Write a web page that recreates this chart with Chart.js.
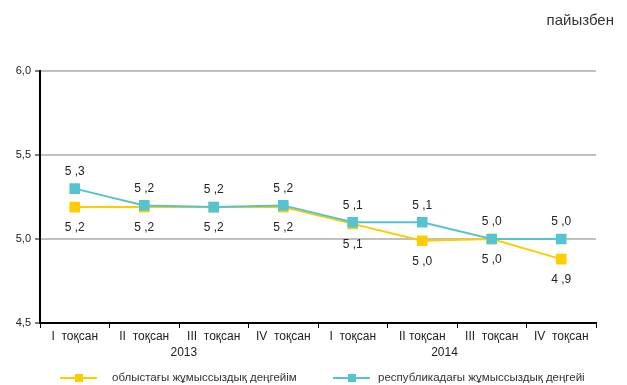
<!DOCTYPE html>
<html><head><meta charset="utf-8">
<script src="https://cdn.jsdelivr.net/npm/chart.js@4/dist/chart.umd.min.js"></script>
<style>html,body{margin:0;padding:0;background:#fff}#wrap{width:627px;height:385px;position:relative}</style>
</head><body><div id="wrap"><canvas id="c" width="627" height="385"></canvas></div>
<script>
const categories = ['I  тоқсан','II  тоқсан','III  тоқсан','IV  тоқсан','I  тоқсан','II тоқсан','III  тоқсан','IV  тоқсан'];
const years = ['2013','2014'];
const regionValues = [5.19, 5.19, 5.19, 5.19, 5.09, 4.99, 5.0, 4.88];
const regionLabels = ['5 ,2','5 ,2','5 ,2','5 ,2','5 ,1','5 ,0','5 ,0','4 ,9'];
const republicValues = [5.3, 5.2, 5.19, 5.2, 5.1, 5.1, 5.0, 5.0];
const republicLabels = ['5 ,3','5 ,2','5 ,2','5 ,2','5 ,1','5 ,1','5 ,0','5 ,0'];
const seriesNames = ['облыстағы жұмыссыздық деңгейім','республикадағы жұмыссыздық деңгейі'];
const yTicks = [4.5, 5.0, 5.5, 6.0];
const unitLabel = 'пайызбен';

const YELLOW = '#FFCC00', CYAN = '#55C4CE';
const FONT = '"Liberation Sans", Arial, sans-serif';

const extras = {
  id: 'extras',
  afterDatasetsDraw(chart) {
    const ctx = chart.ctx;
    ctx.save();
    ctx.font = '12px ' + FONT;
    ctx.fillStyle = '#222';
    ctx.textAlign = 'center';
    ctx.textBaseline = 'middle';
    const m0 = chart.getDatasetMeta(0), m1 = chart.getDatasetMeta(1);
    m0.data.forEach((p, i) => ctx.fillText(regionLabels[i], p.x, p.y + 21));
    m1.data.forEach((p, i) => ctx.fillText(republicLabels[i], p.x, p.y - 17));
    // years
    const xs = chart.scales.x;
    ctx.fillText(years[0], xs.getPixelForValue(1.57), 353);
    ctx.fillText(years[1], xs.getPixelForValue(5.32), 353);
    // unit
    ctx.font = '15px ' + FONT;
    ctx.fillStyle = '#333';
    ctx.textAlign = 'right';
    ctx.fillText(unitLabel, 614, 21);
    // legend
    ctx.font = '11.5px ' + FONT;
    ctx.textAlign = 'left';
    const items = [[60, YELLOW, seriesNames[0], 112], [333, CYAN, seriesNames[1], 378]];
    items.forEach(([x, col, txt, tx]) => {
      ctx.strokeStyle = col; ctx.lineWidth = 2;
      ctx.beginPath(); ctx.moveTo(x, 378); ctx.lineTo(x + 37, 378); ctx.stroke();
      ctx.fillStyle = col; ctx.fillRect(x + 15, 374, 8, 8);
      ctx.fillStyle = '#333'; ctx.fillText(txt, tx, 378);
    });
    ctx.restore();
  }
};

new Chart(document.getElementById('c'), {
  type: 'line',
  data: {
    labels: categories,
    datasets: [
      { label: seriesNames[0], data: regionValues, borderColor: YELLOW, backgroundColor: YELLOW,
        borderWidth: 2, pointStyle: 'rect', pointRadius: 7.5, pointBorderWidth: 0, order: 1, tension: 0 },
      { label: seriesNames[1], data: republicValues, borderColor: CYAN, backgroundColor: CYAN,
        borderWidth: 2, pointStyle: 'rect', pointRadius: 7.5, pointBorderWidth: 0, order: 0, tension: 0 }
    ]
  },
  options: {
    responsive: false, animation: false,
    layout: { padding: { left: 0, right: 31, top: 71, bottom: 42 } },
    plugins: { legend: { display: false }, tooltip: { enabled: false }, title: { display: false } },
    scales: {
      x: {
        offset: true,
        grid: { drawOnChartArea: false, offset: true, tickLength: 5, color: '#000', lineWidth: 1 },
        border: { color: '#000', width: 2 },
        ticks: { color: '#222', font: { size: 12, family: FONT }, padding: 1, maxRotation: 0, autoSkip: false },
        afterFit(s) { s.height = 20; }
      },
      y: {
        min: 4.5, max: 6.0,
        afterBuildTicks(s) { s.ticks = yTicks.map(v => ({ value: v })); },
        grid: { color: '#c0c0c0', lineWidth: 2, tickColor: '#000', tickLength: 5, tickWidth: 1 },
        border: { color: '#000', width: 2 },
        ticks: { color: '#222', font: { size: 11, family: FONT }, padding: 4,
          callback: v => v.toFixed(1).replace('.', ',') },
        afterFit(s) { s.width = 40; }
      }
    }
  },
  plugins: [extras]
});
</script></body></html>
